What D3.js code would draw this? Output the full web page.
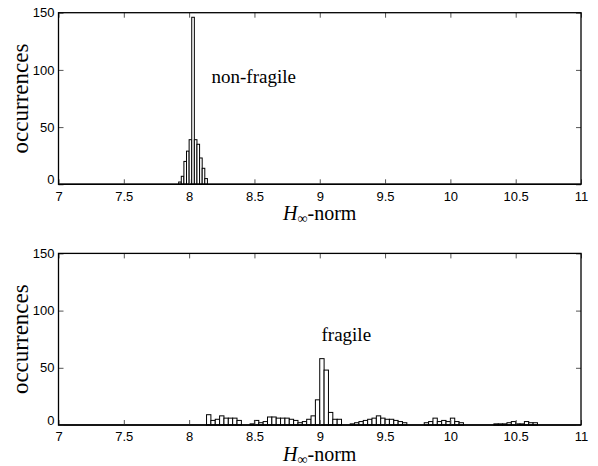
<!DOCTYPE html>
<html><head><meta charset="utf-8">
<script src="https://cdn.jsdelivr.net/npm/d3@7"></script>
<style>body{margin:0;background:#fff}svg{display:block}</style>
</head><body>
<script>
// ---- data ----
const xTicks = [7, 7.5, 8, 8.5, 9, 9.5, 10, 10.5, 11];
const xTickLabels = ["7", "7.5", "8", "8.5", "9", "9.5", "10", "10.5", "11"];
const yTicks = [0, 50, 100, 150];
const yTickLabels = ["0", "50", "100", "150"];

// non-fragile histogram: bin left edges and counts (bin width 0.02)
const topBinWidth = 0.02;
const topBinStart = [7.92, 7.94, 7.96, 7.98, 8.00, 8.02, 8.04, 8.06, 8.08, 8.10, 8.12];
const topCounts   = [2,    7,    20,   29,   39,   146,  39,   35,   23,   14,   5];

// fragile histogram: bin width 1/30, first bin edge 8.1333
const botBinWidth = 1 / 30;
const botFirstEdge = 8.1333;
const botCounts = [
  9, 4, 5, 8, 6, 6, 6, 4, 0, 0,
  1, 4, 2, 3, 7, 7, 6, 6, 6, 5,
  4, 2, 3, 5, 8, 22, 58, 48, 11, 5,
  5, 0, 0, 1, 2, 3, 4, 5, 6, 8,
  6, 5, 5, 4, 3, 2, 0, 0, 0, 0,
  2, 3, 6, 3, 4, 3, 6, 3, 2, 0,
  0, 0, 0, 0, 0, 0, 1, 1, 1, 2,
  3, 1, 1, 3, 2, 2
];
const panelLabels = ["non-fragile", "fragile"];

// ---- layout ----
const W = 598, H = 466;
const svg = d3.select("body").append("svg").attr("width", W).attr("height", H);
const left = 58.5, right = 581;
const panels = [
  {top: 12.7, bottom: 184.3, bins: topBinStart.map((s, i) => ({x0: s, x1: s + topBinWidth, c: topCounts[i]})), label: panelLabels[0], lx: 211.5, ly: 83},
  {top: 253.4, bottom: 425, bins: botCounts.map((c, i) => ({x0: botFirstEdge + i * botBinWidth, x1: botFirstEdge + (i + 1) * botBinWidth, c})), label: panelLabels[1], lx: 321.5, ly: 341}
];

panels.forEach(p => {
  const x = d3.scaleLinear().domain([7, 11]).range([left, right]);
  const y = d3.scaleLinear().domain([0, 150]).range([p.bottom, p.top]);
  const g = svg.append("g");

  // bars
  g.selectAll("rect.bar").data(p.bins.filter(b => b.c > 0)).join("rect")
    .attr("x", d => x(d.x0)).attr("width", d => x(d.x1) - x(d.x0))
    .attr("y", d => y(d.c)).attr("height", d => y(0) - y(d.c))
    .attr("fill", "#fff").attr("stroke", "#000").attr("stroke-width", 1);
  g.append("line").attr("x1", x(7)).attr("x2", x(11)).attr("y1", y(0)).attr("y2", y(0))
    .attr("stroke", "#000").attr("stroke-width", 1.5);

  // axes with inward ticks (MATLAB style)
  const tickLen = 5;
  const xb = d3.axisBottom(x).tickValues(xTicks).tickSizeInner(-tickLen).tickSizeOuter(0)
    .tickFormat((d, i) => xTickLabels[i]).tickPadding(7);
  const gx = g.append("g").attr("transform", `translate(0,${p.bottom})`).call(xb);
  const xt = d3.axisTop(x).tickValues(xTicks).tickSizeInner(-tickLen).tickSizeOuter(0).tickFormat("");
  const gxt = g.append("g").attr("transform", `translate(0,${p.top})`).call(xt);
  const yl = d3.axisLeft(y).tickValues(yTicks).tickSizeInner(-tickLen).tickSizeOuter(0)
    .tickFormat((d, i) => yTickLabels[i]).tickPadding(4);
  const gy = g.append("g").attr("transform", `translate(${left},0)`).call(yl);
  const yr = d3.axisRight(y).tickValues(yTicks).tickSizeInner(-tickLen).tickSizeOuter(0).tickFormat("");
  const gyr = g.append("g").attr("transform", `translate(${right},0)`).call(yr);
  [gx, gxt, gy, gyr].forEach(a => {
    a.select(".domain").remove();
    a.selectAll(".tick line").attr("stroke", "#555");
    a.selectAll("text").attr("font-family", "'Liberation Sans', Arial, sans-serif")
      .attr("font-size", 13).attr("fill", "#000");
  });
  gy.selectAll(".tick text").attr("dy", (d) => d === 0 ? "-0.05em" : "0.32em");

  // frame
  g.append("rect").attr("x", left).attr("y", p.top).attr("width", right - left).attr("height", p.bottom - p.top)
    .attr("fill", "none").attr("stroke", "#000").attr("stroke-width", 1.3);

  // y label
  g.append("text")
    .attr("transform", `translate(${28},${(p.top + p.bottom) / 2}) rotate(-90)`)
    .attr("text-anchor", "middle")
    .attr("font-family", "'Liberation Serif', 'Times New Roman', serif")
    .attr("font-size", 23).text("occurrences");

  // x label: H∞-norm
  const xl = g.append("text")
    .attr("x", (left + right) / 2).attr("y", p.bottom + 36)
    .attr("text-anchor", "middle")
    .attr("font-family", "'Liberation Serif', 'Times New Roman', serif")
    .attr("font-size", 20);
  xl.append("tspan").attr("font-style", "italic").text("H");
  xl.append("tspan").attr("font-size", 14).attr("dy", 3).text("∞");
  xl.append("tspan").attr("dy", -3).text("-norm");

  // panel label
  g.append("text").attr("x", p.lx).attr("y", p.ly)
    .attr("font-family", "'Liberation Serif', 'Times New Roman', serif")
    .attr("font-size", 19).text(p.label);
});
</script>
</body></html>
